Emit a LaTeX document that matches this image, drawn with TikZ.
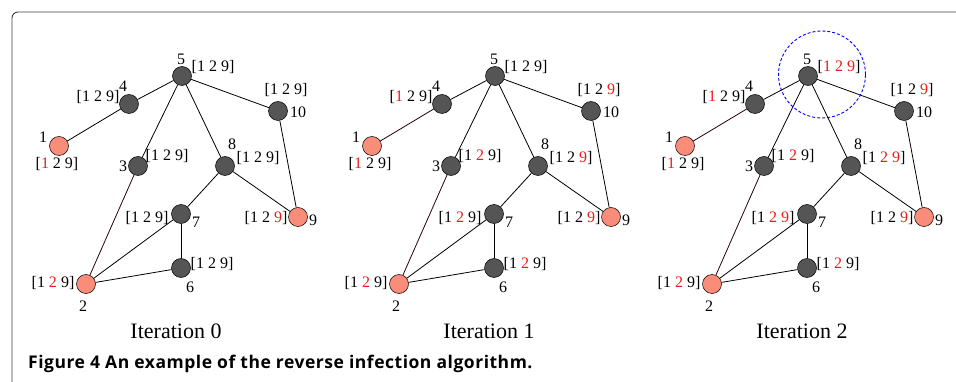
\documentclass[tikz,border=0pt]{standalone}
\usepackage{fontspec}
\setmainfont{Liberation Serif}
\newfontfamily\capfont[LetterSpace=3]{Open Sans}
\definecolor{nodegray}{RGB}{85,85,85}
\definecolor{seedpink}{RGB}{250,140,122}
\definecolor{hitred}{RGB}{240,25,25}
\definecolor{framegray}{RGB}{60,60,60}
\definecolor{maroon}{RGB}{40,0,12}
\newcommand{\hit}[1]{\textcolor{hitred}{#1}}
\begin{document}
\begin{tikzpicture}[x=1pt,y=-1pt,
    dot/.style={circle,draw=black,line width=0.5pt,fill=nodegray,minimum size=19pt,inner sep=0pt},
    seed/.style={dot,fill=seedpink},
    num/.style={inner sep=0pt,font=\fontsize{16}{16}\selectfont},
    edge/.style={line width=0.8pt}]
  \useasboundingbox (0,0) rectangle (956,382);
  \draw[framegray,line width=0.9pt,rounded corners=6] (12,382) -- (12,12) -- (956,12);
  \foreach \p/\dx/\i/\lc in {a/0/0/black,b/313/1/maroon,c/626/2/maroon}{
    \begin{scope}[xshift=\dx pt]
      % nodes
      \node[dot] (\p5) at (182,76) {};
      \node[dot] (\p4) at (129,104) {};
      \node[seed] (\p1) at (59,146) {};
      \node[dot] (\p10) at (278,111) {};
      \node[dot] (\p3) at (138,166) {};
      \node[dot] (\p8) at (225,166) {};
      \node[dot] (\p7) at (181,214) {};
      \node[seed] (\p9) at (298,217) {};
      \node[dot] (\p6) at (181,268) {};
      \node[seed] (\p2) at (86,284) {};
      % edges
      \foreach \u/\v in {5/4,5/3,5/8,5/10,10/9,8/9,8/7,7/2,7/6,6/2}
        \draw[edge] (\p\u) -- (\p\v);
      \draw[edge,draw=maroon] (\p3) -- (\p2);
      \draw[edge,draw=\lc] (\p4) -- (\p1);
      % node numbers
      \foreach \n/\a/\b in {5/-1/-17,4/-6/-18,1/-16/-9,10/20/1,3/-15/0,8/7/-22,7/15/8,9/15/3,6/9/19,2/-3/22}
        \node[num] at ([shift={(\a,\b)}]\p\n) {\n};
      % where the vectors go
      \foreach \n/\a/\b in {5/31/-9,4/-31/-7,1/-2/18,10/8/-21,3/29/-10,8/33/-8,7/-34/4,9/-32/1,6/31/-4,2/-33/-1}
        \coordinate (v\p\n) at ([shift={(\a,\b)}]\p\n);
      \node[font=\fontsize{22}{22}\selectfont] (it\i) at (176,331) {Iteration \i};
    \end{scope}
  }
  % vectors, iteration 0
  \foreach \n/\t in {5/{[1 2 9]},4/{[1 2 9]},1/{[\hit{1} 2 9]},10/{[1 2 9]},3/{[1 2 9]},
      8/{[1 2 9]},7/{[1 2 9]},9/{[1 2 \hit{9}]},6/{[1 2 9]},2/{[1 \hit{2} 9]}}
    \node[num] at (va\n) {\t};
  % iteration 1
  \foreach \n/\t in {5/{[1 2 9]},4/{[\hit{1} 2 9]},1/{[\hit{1} 2 9]},10/{[1 2 \hit{9}]},3/{[1 \hit{2} 9]},
      8/{[1 2 \hit{9}]},7/{[1 \hit{2} 9]},9/{[1 2 \hit{9}]},6/{[1 \hit{2} 9]},2/{[1 \hit{2} 9]}}
    \node[num] at (vb\n) {\t};
  % iteration 2
  \foreach \n/\t in {5/{[\hit{1} \hit{2} \hit{9}]},4/{[\hit{1} 2 9]},1/{[\hit{1} 2 9]},10/{[1 2 \hit{9}]},3/{[1 \hit{2} 9]},
      8/{[1 \hit{2} \hit{9}]},7/{[1 \hit{2} \hit{9}]},9/{[1 2 \hit{9}]},6/{[1 \hit{2} 9]},2/{[1 \hit{2} 9]}}
    \node[num] at (vc\n) {\t};
  \node[circle,draw=blue,dash pattern=on 3pt off 2pt,line width=0.9pt,minimum size=87pt,inner sep=0pt] (focus) at (822,74.5) {};
  \node[anchor=base west,inner sep=0pt,font=\capfont\bfseries\fontsize{17.5}{17.5}\selectfont] (cap) at (28,368) {Figure 4 An example of the reverse infection algorithm.};
\end{tikzpicture}
\end{document}
